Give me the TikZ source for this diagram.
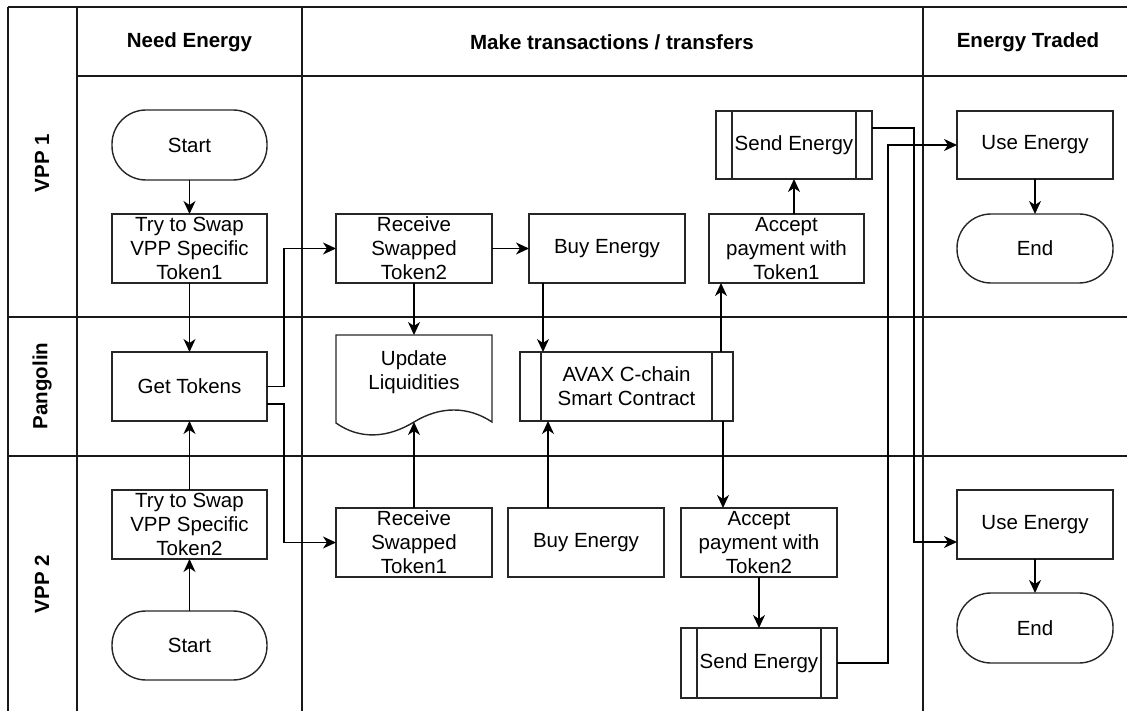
\documentclass[tikz,border=0pt]{standalone}
\usepackage{fontspec}
\setmainfont{Liberation Sans}
\usetikzlibrary{arrows.meta}
\begin{document}
\begin{tikzpicture}[x=1pt,y=-1pt,
  lane/.style={line width=2pt,draw=black!90},
  box/.style={draw=black!85,line width=1.4pt,rectangle,inner sep=0pt,outer sep=0pt,
    align=center,font=\fontsize{20.5}{24}\selectfont},
  term/.style={box,rounded corners=34pt},
  txt/.style={inner sep=0pt,align=center,font=\fontsize{20.5}{24}\selectfont},
  hdr/.style={inner sep=0pt,font=\fontsize{20.5}{24}\selectfont\bfseries},
  arr/.style={line width=1.5pt,draw=black,-{Stealth[length=13pt,width=12pt,inset=4pt]}},
  edge/.style={line width=1.4pt,draw=black!85}]
\useasboundingbox (0,0) rectangle (1127,711);
% lanes and columns
\draw[lane] (8,7) -- (1127,7);
\draw[lane] (77,76) -- (1127,76);
\draw[lane] (8,317.5) -- (1127,317.5);
\draw[lane] (8,455.5) -- (1127,455.5);
\draw[lane] (8,7) -- (8,711);
\draw[lane] (77,7) -- (77,711);
\draw[lane] (302,7) -- (302,711);
\draw[lane] (922.5,7) -- (922.5,711);
% headers
\node[hdr] (h1) at (189.5,42) {Need Energy};
\node[hdr] (h2) at (612,42) {Make transactions / transfers};
\node[hdr] (h3) at (1028,42) {Energy Traded};
\node[hdr,rotate=90] (l1) at (42,163) {VPP 1};
\node[hdr,rotate=90] (l2) at (42,386) {Pangolin};
\node[hdr,rotate=90] (l3) at (42,584) {VPP 2};
% VPP 1
\node[term,minimum width=155pt,minimum height=70pt] (s1) at (189.5,145) {Start};
\node[box,minimum width=155pt,minimum height=69pt] (t1) at (189.5,248.5) {Try to Swap\\VPP Specific\\Token1};
\node[box,minimum width=156pt,minimum height=69pt] (r2) at (414,248.5) {Receive\\Swapped\\Token2};
\node[box,minimum width=156pt,minimum height=69pt] (b1) at (607,248.5) {Buy Energy};
\node[box,minimum width=155pt,minimum height=69pt] (a1) at (786.5,248.5) {Accept\\payment with\\Token1};
\node[box,minimum width=156pt,minimum height=68pt] (se1) at (794,145) {Send Energy};
\draw[edge] ([xshift=16pt]se1.north west) -- ([xshift=16pt]se1.south west);
\draw[edge] ([xshift=-16pt]se1.north east) -- ([xshift=-16pt]se1.south east);
\node[box,minimum width=156pt,minimum height=68pt] (u1) at (1035,145) {Use Energy};
\node[term,minimum width=156pt,minimum height=69pt] (e1) at (1035,248.5) {End};
% Pangolin
\node[box,minimum width=155pt,minimum height=69pt] (gt) at (189.5,386.5) {Get Tokens};
\coordinate (updt) at (414,335);
\coordinate (updb) at (414,422);
\draw[edge] (336,335) -- (492,335) -- (492,422)
  .. controls (468,406) and (440,406) .. (414,422)
  .. controls (388,438) and (360,440) .. (336,423) -- cycle;
\node[txt] (upd) at (414,372) {Update\\Liquidities};
\node[box,minimum width=213pt,minimum height=69pt] (avax) at (626.5,386.5) {AVAX C-chain\\Smart Contract};
\draw[edge] ([xshift=21pt]avax.north west) -- ([xshift=21pt]avax.south west);
\draw[edge] ([xshift=-21pt]avax.north east) -- ([xshift=-21pt]avax.south east);
% VPP 2
\node[box,minimum width=155pt,minimum height=69pt] (t2) at (189.5,524.5) {Try to Swap\\VPP Specific\\Token2};
\node[term,minimum width=155pt,minimum height=69pt] (s2) at (189.5,645.5) {Start};
\node[box,minimum width=156pt,minimum height=69pt] (r1) at (414,542.5) {Receive\\Swapped\\Token1};
\node[box,minimum width=156pt,minimum height=69pt] (b2) at (586,542.5) {Buy Energy};
\node[box,minimum width=156pt,minimum height=69pt] (a2) at (759,542.5) {Accept\\payment with\\Token2};
\node[box,minimum width=156pt,minimum height=70pt] (se2) at (759,663) {Send Energy};
\draw[edge] ([xshift=16pt]se2.north west) -- ([xshift=16pt]se2.south west);
\draw[edge] ([xshift=-16pt]se2.north east) -- ([xshift=-16pt]se2.south east);
\node[box,minimum width=156pt,minimum height=69pt] (u2) at (1035,524.5) {Use Energy};
\node[term,minimum width=156pt,minimum height=70pt] (e2) at (1035,628) {End};
% connectors
\draw[arr] (s1.south) -- (t1.north);
\draw[arr] (t1.south) -- (gt.north);
\draw[arr] (gt.east) -- ++(17,0) |- (r2.west);
\draw[arr] ([yshift=-17.5pt]gt.east) -- ++(17,0) |- (r1.west);
\draw[arr] (r2.south) -- (updt);
\draw[arr] (r2.east) -- (b1.west);
\draw[arr] ([xshift=-64pt]b1.south) -- ([xshift=-64pt]b1.south |- avax.north);
\draw[arr] ([xshift=94.5pt]avax.north) -- ([xshift=94.5pt]avax.north |- a1.south);
\draw[arr] (se1.south |- a1.north) -- (se1.south);
\draw[arr] ([xshift=96.5pt]avax.south) -- ([xshift=96.5pt]avax.south |- a2.north);
\draw[arr] ([xshift=-38pt]b2.north) -- ([xshift=-38pt]b2.north |- avax.south);
\draw[arr] (r1.north) -- (updb);
\draw[arr] (t2.north) -- (gt.south);
\draw[arr] (s2.north) -- (t2.south);
\draw[arr] (a2.south) -- (se2.north);
\draw[arr] ([yshift=17pt]se1.east) -- ++(42,0) |- ([yshift=-17.5pt]u2.west);
\draw[arr] (se2.east) -- ++(51,0) |- (u1.west);
\draw[arr] (u1.south) -- (e1.north);
\draw[arr] (u2.south) -- (e2.north);
\end{tikzpicture}
\end{document}
